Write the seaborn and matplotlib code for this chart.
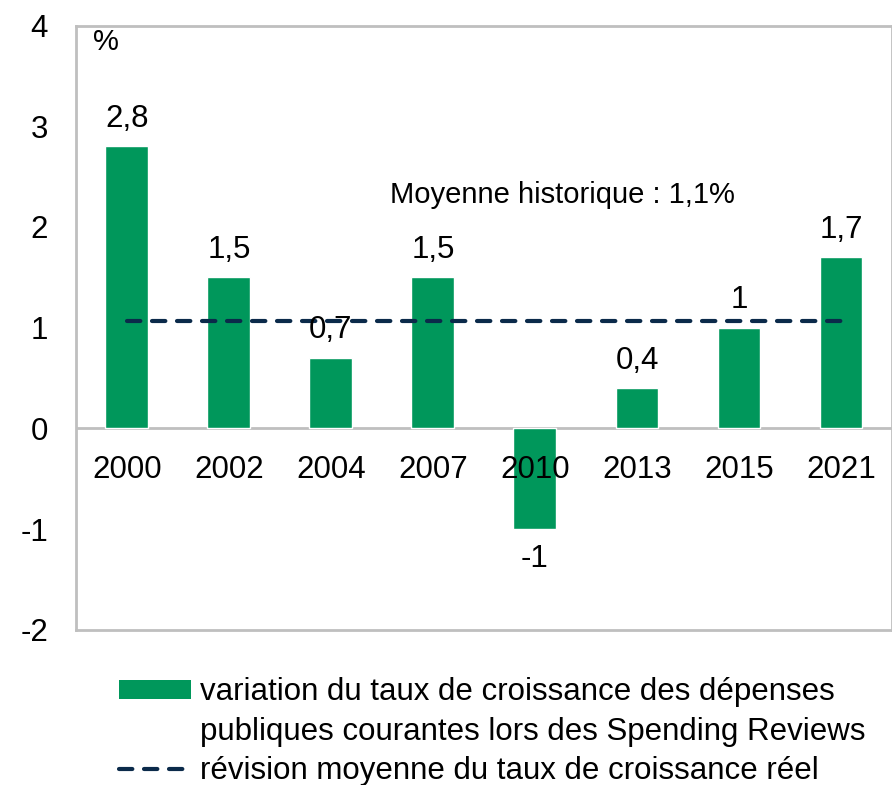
#!/usr/bin/env python3
# coding=utf-8
import matplotlib
matplotlib.use("Agg")

import pandas as pd
import seaborn as sns
from matplotlib import pyplot as plt
from matplotlib.lines import Line2D
from matplotlib.patches import Patch

# data
years = ["2000", "2002", "2004", "2007", "2010", "2013", "2015", "2021"]
variation = [2.8, 1.5, 0.7, 1.5, -1.0, 0.4, 1.0, 1.7]
revision = [1.07, 1.07, 1.07, 1.07, 1.07, 1.07, 1.07, 1.07]
bar_labels = ["2,8", "1,5", "0,7", "1,5", "-1", "0,4", "1", "1,7"]
y_ticks = [-2, -1, 0, 1, 2, 3, 4]

bar_name = ["variation du taux de croissance des dépenses",
            "publiques courantes lors des Spending Reviews"]
line_name = "révision moyenne du taux de croissance réel"
avg_text = "Moyenne historique : 1,1%"

green = "#00975B"
navy = "#0B2A4A"
grey = "#BFBFBF"
dash = (0, (3.2, 2.8))

sns.set_style("white")
plt.rcParams["font.family"] = ["Liberation Sans", "DejaVu Sans"]
plt.rcParams["text.color"] = "black"
plt.rcParams["ytick.color"] = "black"

df = pd.DataFrame({"year": years, "variation": variation,
                   "revision": revision})

fig = plt.figure(figsize=(8.92, 7.85), dpi=100)
ax = fig.add_axes([0.085, 0.1975, 0.915, 0.77])

sns.barplot(data=df, x="year", y="variation", color=green, width=0.42,
            saturation=1, ax=ax, zorder=2)
ax.plot(range(len(years)), df["revision"], color=navy, lw=3,
        ls=dash, dash_capstyle="round", zorder=3)

# zero line
ax.axhline(0, color=grey, lw=2, zorder=1)

# bar value labels
for i, (v, lab) in enumerate(zip(variation, bar_labels)):
    if v >= 0:
        ax.annotate(lab, (i, v), xytext=(0, 9), textcoords="offset points",
                    ha="center", va="bottom", fontsize=22.5)
    else:
        ax.annotate(lab, (i, v), xytext=(0, -11), textcoords="offset points",
                    ha="center", va="top", fontsize=22.5)

# category labels just below the zero line
for i, yr in enumerate(years):
    ax.annotate(yr, (i, 0), xytext=(0, -19), textcoords="offset points",
                ha="center", va="top", fontsize=22.5, zorder=4)

ax.text(4.27, 2.32, avg_text, ha="center", va="center", fontsize=21)
ax.text(0.037, 0.972, "%", transform=ax.transAxes, ha="center",
        va="center", fontsize=21)

ax.set_ylim(-2, 4)
ax.set_xlim(-0.5, len(years) - 0.5)
ax.set_yticks(y_ticks)
ax.set_yticklabels([str(t) for t in y_ticks], fontsize=22.5)
ax.set_xticks([])
ax.set_xlabel("")
ax.set_ylabel("")
ax.tick_params(axis="y", length=0, pad=20)

for side in ["left", "top", "bottom", "right"]:
    ax.spines[side].set_color(grey)
    ax.spines[side].set_linewidth(2)

handles = [Patch(facecolor=green, edgecolor="none"),
           Patch(facecolor="none", edgecolor="none"),
           Line2D([0], [0], color=navy, lw=3, ls=dash,
                  dash_capstyle="round")]
fig.legend(handles, bar_name + [line_name], loc="upper left",
           bbox_to_anchor=(0.133, 0.137), frameon=False, fontsize=22.5,
           handlelength=2.3, handleheight=0.6, handletextpad=0.3,
           labelspacing=0.3, borderaxespad=0, borderpad=0)

fig.savefig("out.png", dpi=100)
